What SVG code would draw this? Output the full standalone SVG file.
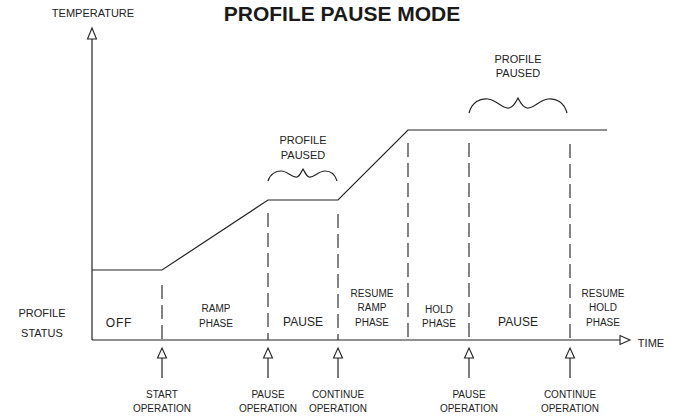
<svg xmlns="http://www.w3.org/2000/svg" width="676" height="416" viewBox="0 0 676 416">
<style>
  .ln{fill:none;stroke:#222;stroke-width:1.2}
  .ds{fill:none;stroke:#333;stroke-width:1.2;stroke-dasharray:14 6}
  .ah{fill:#fff;stroke:#222;stroke-width:1.1}
  text{font-family:"Liberation Sans",Arial,sans-serif;fill:#222;text-anchor:middle}
  .s10{font-size:10px}
  .s11{font-size:11px}
  .s12{font-size:12px}
  .title{font-size:21px;font-weight:bold;fill:#1a1a1a}
</style>
<rect width="676" height="416" fill="#fff"/>
<text class="title" x="342" y="21">PROFILE PAUSE MODE</text>
<g id="axes">
  <text class="s11" x="93" y="17">TEMPERATURE</text>
  <line class="ln" x1="92" y1="39" x2="92" y2="340"/>
  <path class="ah" d="M92,28 L96.5,39 L87.5,39 Z"/>
  <line class="ln" x1="92" y1="340" x2="620" y2="340"/>
  <path class="ah" d="M630,340 L620,335.5 L620,344.5 Z"/>
  <text class="s11" x="651" y="347">TIME</text>
  <text class="s11" x="42" y="317">PROFILE</text>
  <text class="s11" x="42" y="337">STATUS</text>
</g>
<g id="profile">
  <path class="ln" d="M92,270 H162 L268,200 H338 L408,130 H607"/>
</g>
<g id="phase-lines">
  <line class="ds" x1="162" y1="285" x2="162" y2="340"/>
  <line class="ds" x1="268" y1="213" x2="268" y2="340"/>
  <line class="ds" x1="338" y1="214" x2="338" y2="340"/>
  <line class="ds" x1="408" y1="143" x2="408" y2="340"/>
  <line class="ds" x1="469" y1="143" x2="469" y2="340"/>
  <line class="ds" x1="570" y1="144" x2="570" y2="340"/>
</g>
<g id="status-labels">
  <text class="s12" x="119" y="327" letter-spacing="0.8">OFF</text>
  <text class="s10" x="216" y="312">RAMP</text>
  <text class="s10" x="216" y="327">PHASE</text>
  <text class="s12" x="303" y="326">PAUSE</text>
  <text class="s10" x="372" y="297">RESUME</text>
  <text class="s10" x="372" y="311">RAMP</text>
  <text class="s10" x="372" y="326">PHASE</text>
  <text class="s10" x="439" y="313">HOLD</text>
  <text class="s10" x="439" y="327">PHASE</text>
  <text class="s12" x="518" y="326">PAUSE</text>
  <text class="s10" x="603" y="297">RESUME</text>
  <text class="s10" x="603" y="311">HOLD</text>
  <text class="s10" x="603" y="326">PHASE</text>
</g>
<g id="paused-mid">
  <text class="s11" x="303" y="144">PROFILE</text>
  <text class="s11" x="303" y="159">PAUSED</text>
  <path class="ln" d="M268,181 C270,174 276,171 281,171 C288,171 292,178 297,177 C300,176 301,172 303,169 C305,172 306,176 309,177 C314,178 318,171 325,171 C330,171 335,174 337,181"/>
</g>
<g id="paused-right">
  <text class="s11" x="518" y="63">PROFILE</text>
  <text class="s11" x="518" y="77">PAUSED</text>
  <path class="ln" d="M469,113 C472,102 480,98 488,99 C497,100 502,109 509,108 C514,107 516,102 518,98 C520,102 522,107 527,108 C534,109 539,100 548,99 C556,98 564,102 567,113"/>
</g>
<g id="operations">
  <g id="op-start">
    <line class="ln" x1="162" y1="358" x2="162" y2="378"/>
    <path class="ah" d="M162,348 L166.5,358 L157.5,358 Z"/>
    <text class="s10" x="162" y="398">START</text>
    <text class="s10" x="162" y="412">OPERATION</text>
  </g>
  <g id="op-pause1">
    <line class="ln" x1="268" y1="358" x2="268" y2="378"/>
    <path class="ah" d="M268,348 L272.5,358 L263.5,358 Z"/>
    <text class="s10" x="268" y="398">PAUSE</text>
    <text class="s10" x="268" y="412">OPERATION</text>
  </g>
  <g id="op-continue1">
    <line class="ln" x1="338" y1="358" x2="338" y2="378"/>
    <path class="ah" d="M338,348 L342.5,358 L333.5,358 Z"/>
    <text class="s10" x="338" y="398">CONTINUE</text>
    <text class="s10" x="338" y="412">OPERATION</text>
  </g>
  <g id="op-pause2">
    <line class="ln" x1="469" y1="358" x2="469" y2="378"/>
    <path class="ah" d="M469,348 L473.5,358 L464.5,358 Z"/>
    <text class="s10" x="469" y="398">PAUSE</text>
    <text class="s10" x="469" y="412">OPERATION</text>
  </g>
  <g id="op-continue2">
    <line class="ln" x1="570" y1="358" x2="570" y2="378"/>
    <path class="ah" d="M570,348 L574.5,358 L565.5,358 Z"/>
    <text class="s10" x="570" y="398">CONTINUE</text>
    <text class="s10" x="570" y="412">OPERATION</text>
  </g>
</g>
</svg>
